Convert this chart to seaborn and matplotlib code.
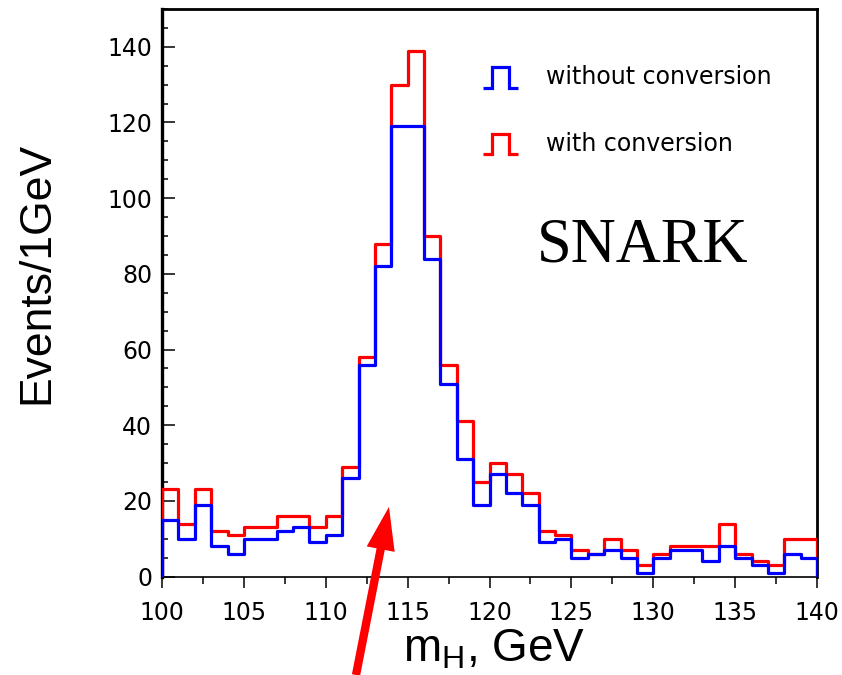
import numpy as np
import pandas as pd
import matplotlib
matplotlib.use("Agg")
import matplotlib.pyplot as plt
import seaborn as sns
from matplotlib.legend_handler import HandlerBase
from matplotlib.lines import Line2D
from matplotlib.ticker import MultipleLocator
from matplotlib.patches import ArrowStyle

# ---- data (events per 1 GeV bin, bins start at bin_low) ----
bin_low = list(range(100, 140))
without_conv = [15, 10, 19, 8, 6, 10, 10, 12, 13, 9,
                11, 26, 56, 82, 119, 119, 84, 51, 31, 19,
                27, 22, 19, 9, 10, 5, 6, 7, 5, 1,
                5, 7, 7, 4, 8, 5, 3, 1, 6, 5]
with_conv = [23, 14, 23, 12, 11, 13, 13, 16, 16, 13,
             16, 29, 58, 88, 130, 139, 90, 56, 41, 25,
             30, 27, 22, 12, 11, 7, 6, 10, 7, 3,
             6, 8, 8, 8, 14, 6, 4, 3, 10, 10]
series_labels = ["without conversion", "with conversion"]
series_colors = ["#0000ff", "#ff0000"]
x_label = "m$_H$, GeV"
y_label = "Events/1GeV"
tag_text = "SNARK"

rows = []
for lab, vals in zip(series_labels, [without_conv, with_conv]):
    for b, v in zip(bin_low, vals):
        rows.append({"mass": b + 0.5, "events": v, "sample": lab})
df = pd.DataFrame(rows)

sns.set_style("white")
plt.rcParams["font.family"] = ["DejaVu Sans"]
plt.rcParams["mathtext.default"] = "regular"
plt.rcParams["text.color"] = "black"
plt.rcParams["axes.labelcolor"] = "black"
plt.rcParams["xtick.color"] = "black"
plt.rcParams["ytick.color"] = "black"
plt.rcParams["xtick.labelcolor"] = "black"
plt.rcParams["ytick.labelcolor"] = "black"

W, H = 842, 675
fig = plt.figure(figsize=(W / 100, H / 100), dpi=100)
ax = fig.add_axes([162 / W, 1 - 576.5 / H, 655 / W, 567.5 / H])

edges = [float(e) for e in range(bin_low[0] - 1, bin_low[-1] + 3)]

# red (with conversion) underneath, blue on top
for lab, col, z in [(series_labels[1], series_colors[1], 3),
                    (series_labels[0], series_colors[0], 4)]:
    sns.histplot(data=df[df["sample"] == lab], x="mass", weights="events",
                 bins=edges, element="step", fill=False, color=col,
                 linewidth=2.3, ax=ax, zorder=z)

ax.set_xlim(100, 140)
ax.set_ylim(0, 150)

ax.xaxis.set_major_locator(MultipleLocator(5))
ax.xaxis.set_minor_locator(MultipleLocator(2.5))
ax.yaxis.set_major_locator(MultipleLocator(20))
ax.yaxis.set_minor_locator(MultipleLocator(5))
ax.set_yticks([0, 20, 40, 60, 80, 100, 120, 140])

ax.tick_params(axis="x", which="major", direction="out", length=8, width=1.1,
               labelsize=17, pad=9.5, bottom=True, top=False, color="black",
               labelcolor="black")
ax.tick_params(axis="x", which="minor", direction="out", length=5, width=1.1,
               bottom=True, top=False, color="black")
ax.tick_params(axis="y", which="major", direction="in", length=9.5, width=1.1,
               labelsize=17, pad=7, left=True, right=False, color="black",
               labelcolor="black")
ax.tick_params(axis="y", which="minor", direction="in", length=4, width=1.1,
               left=True, right=False, color="black")

for side, lw in [("left", 2.4), ("top", 2.0), ("right", 2.0), ("bottom", 1.2)]:
    ax.spines[side].set_visible(True)
    ax.spines[side].set_color("black")
    ax.spines[side].set_linewidth(lw)

ax.set_xlabel(x_label, fontsize=33, family="Liberation Sans", color="black")
ax.xaxis.label.set_va("baseline")
ax.xaxis.set_label_coords(0.507, -0.1489)
ax.set_ylabel(y_label, fontsize=32, family="Liberation Sans", color="black")
ax.yaxis.label.set_va("center")
ax.yaxis.set_label_coords(-0.1908, 0.535)

ax.text(0.7336, 0.5547, tag_text, transform=ax.transAxes, ha="center",
        va="baseline", fontsize=45, family="Liberation Serif", color="black")


class PulseHandler(HandlerBase):
    def create_artists(self, legend, orig_handle, xdescent, ydescent,
                       width, height, fontsize, trans):
        xs = np.array([0, 0.26, 0.26, 0.74, 0.74, 1.0]) * width - xdescent
        ys = np.array([-0.15, -0.15, 1.0, 1.0, -0.15, -0.15]) * height - ydescent
        line = Line2D(xs, ys, color=orig_handle.get_color(),
                      linewidth=orig_handle.get_linewidth(),
                      solid_joinstyle="miter", solid_capstyle="butt")
        line.set_transform(trans)
        return [line]


handles = [Line2D([], [], color=c, linewidth=2.3) for c in series_colors]
leg = ax.legend(handles, series_labels, handler_map={Line2D: PulseHandler()},
                loc="upper left", bbox_to_anchor=(0.4901, 0.9006),
                frameon=False, fontsize=17, borderpad=0, borderaxespad=0,
                handlelength=1.47, handleheight=0.77, handletextpad=1.2,
                labelspacing=1.8, labelcolor="black")

ax.annotate("", xy=(113.86, 18.4), xycoords="data",
            xytext=(356, 0), textcoords="figure pixels",
            arrowprops=dict(arrowstyle=ArrowStyle.Simple(head_length=3.1,
                                                         head_width=2.05,
                                                         tail_width=0.6),
                            mutation_scale=10, color="#ff0000",
                            shrinkA=0, shrinkB=0, linewidth=0),
            annotation_clip=False, zorder=10)

fig.savefig("out.png", dpi=100)
